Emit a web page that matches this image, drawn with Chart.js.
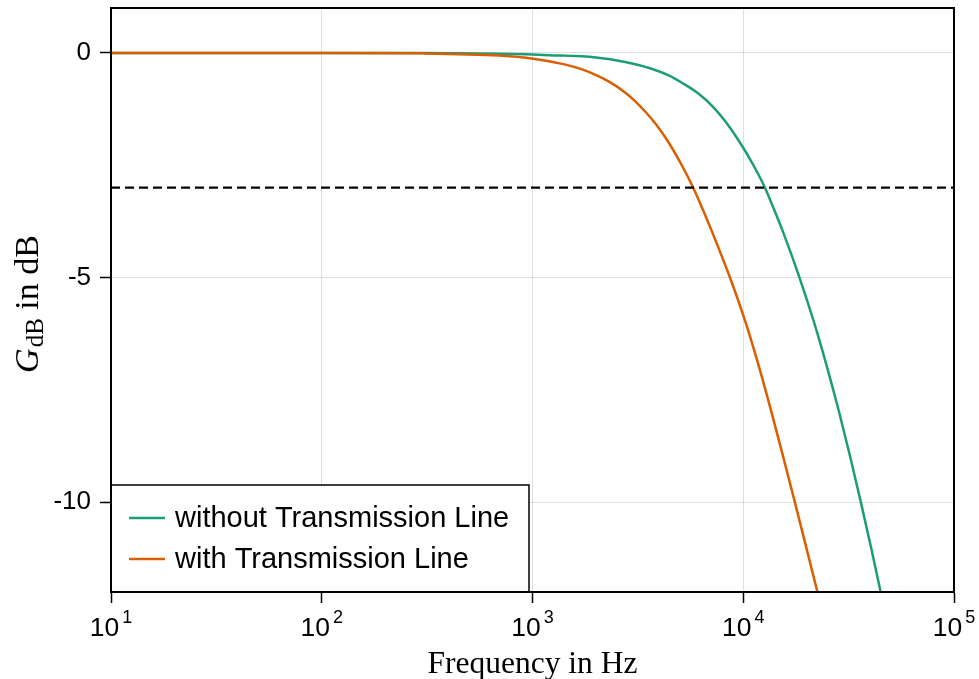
<!DOCTYPE html>
<html>
<head>
<meta charset="utf-8">
<script src="https://cdn.jsdelivr.net/npm/chart.js@4.4.0/dist/chart.umd.min.js"></script>
<style>
  html, body { margin: 0; padding: 0; background: #fff; }
</style>
</head>
<body>
<canvas id="chart" width="979" height="679"></canvas>
<script>
// series (frequency in Hz, gain in dB)
const freqWithout = [10, 100, 300, 700, 1200, 2000, 2750, 3610, 4430, 5180, 6100, 7190, 8300, 9660, 11180, 12680, 14050, 15490, 18490, 21680, 25000, 28510, 32210, 36140, 40360, 44870, 49780];
const gainWithout = [0, 0, 0, -0.02, -0.05, -0.1, -0.2, -0.34, -0.5, -0.68, -0.9, -1.2, -1.55, -2.0, -2.5, -3.0, -3.5, -4.0, -5.0, -6.0, -7.0, -8.0, -9.0, -10.0, -11.0, -12.0, -13.0];

const freqWith = [10, 100, 300, 700, 1010, 1400, 1680, 2040, 2330, 2750, 3030, 3450, 3870, 4450, 5110, 5790, 6450, 7140, 8650, 10260, 11900, 13620, 15490, 17570, 19890, 22490, 25410];
const gainWith = [0, 0, -0.01, -0.06, -0.13, -0.25, -0.35, -0.51, -0.65, -0.88, -1.05, -1.32, -1.6, -2.01, -2.5, -3.0, -3.5, -4.0, -5.0, -6.0, -7.0, -8.0, -9.0, -10.0, -11.0, -12.0, -13.0];

const seriesNames = ["without Transmission Line", "with Transmission Line"];
const seriesColors = ["#1b9e77", "#d95f02"];

const cutoffLevel = -3;
const xTicks = [10, 100, 1000, 10000, 100000];
const xTickBase = "10";
const xTickExponents = ["1", "2", "3", "4", "5"];
const yTicks = [-10, -5, 0];
const yTickLabels = ["-10", "-5", "0"];

function pairs(xs, ys) {
  return xs.map(function (x, i) { return { x: x, y: ys[i] }; });
}

const sans = "'Liberation Sans', Arial, sans-serif";
const serif = "'Liberation Serif', 'Times New Roman', serif";

// legend, x tick labels, axis titles and the frame round the plot
const decorations = {
  id: "decorations",
  afterDraw: function (chart) {
    const ctx = chart.ctx;
    const a = chart.chartArea;
    const xs = chart.scales.x;
    ctx.save();

    // legend box, bottom left inside the plot
    const lw = 418, lh = 107;
    const lx = a.left, ly = a.bottom - lh;
    ctx.fillStyle = "#fff";
    ctx.fillRect(lx, ly, lw, lh);
    ctx.strokeStyle = "#000";
    ctx.lineWidth = 1.5;
    ctx.strokeRect(lx, ly, lw, lh);
    ctx.font = "29px " + sans;
    ctx.textBaseline = "middle";
    ctx.textAlign = "left";
    for (let i = 0; i < 2; i++) {
      const ry = ly + 33 + i * 41;
      ctx.strokeStyle = chart.data.datasets[i].borderColor;
      ctx.lineWidth = 2.5;
      ctx.beginPath();
      ctx.moveTo(lx + 18, ry);
      ctx.lineTo(lx + 54, ry);
      ctx.stroke();
      ctx.fillStyle = "#000";
      ctx.fillText(chart.data.datasets[i].label, lx + 64, ry + 1);
    }

    // frame
    ctx.strokeStyle = "#000";
    ctx.lineWidth = 2;
    ctx.strokeRect(a.left, a.top, a.right - a.left, a.bottom - a.top);

    // x tick labels as 10 with a raised exponent
    ctx.fillStyle = "#000";
    ctx.textBaseline = "alphabetic";
    ctx.textAlign = "left";
    xTicks.forEach(function (v, i) {
      const px = xs.getPixelForValue(v);
      ctx.font = "26.5px " + sans;
      const wb = ctx.measureText(xTickBase).width;
      ctx.font = "18px " + sans;
      const we = ctx.measureText(xTickExponents[i]).width;
      const x0 = px - (wb + 3 + we) / 2;
      ctx.font = "26.5px " + sans;
      ctx.fillText(xTickBase, x0, 636);
      ctx.font = "18px " + sans;
      ctx.fillText(xTickExponents[i], x0 + wb + 3, 623);
    });

    // x title
    ctx.font = "31.5px " + serif;
    ctx.textAlign = "center";
    ctx.fillText("Frequency in Hz", (a.left + a.right) / 2, 673);

    // y title: G_dB in dB, rotated
    ctx.translate(38, 304);
    ctx.rotate(-Math.PI / 2);
    const big = "34px " + serif;
    const bigIt = "italic 34px " + serif;
    const small = "25px " + serif;
    ctx.font = bigIt; const wG = ctx.measureText("G").width;
    ctx.font = small; const wSub = ctx.measureText("dB").width;
    ctx.font = big; const wRest = ctx.measureText(" in dB").width;
    let x0 = -(wG + wSub + 1 + wRest) / 2;
    ctx.textAlign = "left";
    ctx.font = bigIt; ctx.fillText("G", x0, 0);
    x0 += wG + 1;
    ctx.font = small; ctx.fillText("dB", x0, 5);
    x0 += wSub;
    ctx.font = big; ctx.fillText(" in dB", x0, 0);

    ctx.restore();
  }
};

new Chart(document.getElementById("chart"), {
  type: "line",
  data: {
    datasets: [
      {
        label: seriesNames[0],
        data: pairs(freqWithout, gainWithout),
        borderColor: seriesColors[0],
        borderWidth: 2.5,
        pointRadius: 0,
        cubicInterpolationMode: "monotone",
        clip: 0,
        order: 2
      },
      {
        label: seriesNames[1],
        data: pairs(freqWith, gainWith),
        borderColor: seriesColors[1],
        borderWidth: 2.5,
        pointRadius: 0,
        cubicInterpolationMode: "monotone",
        clip: 0,
        order: 1
      },
      {
        label: "-3 dB",
        data: [{ x: xTicks[0], y: cutoffLevel }, { x: xTicks[xTicks.length - 1], y: cutoffLevel }],
        borderColor: "#000",
        borderWidth: 2.2,
        borderDash: [9, 5],
        pointRadius: 0,
        clip: 0,
        order: 0
      }
    ]
  },
  options: {
    responsive: false,
    animation: false,
    events: [],
    layout: { padding: { top: 8, right: 25, left: 0, bottom: 0 } },
    plugins: {
      legend: { display: false },
      tooltip: { enabled: false }
    },
    scales: {
      x: {
        type: "logarithmic",
        min: xTicks[0],
        max: xTicks[xTicks.length - 1],
        afterBuildTicks: function (scale) {
          scale.ticks = xTicks.map(function (v) { return { value: v }; });
        },
        afterFit: function (scale) {
          scale.height = 87;
          scale.paddingLeft = 0;
          scale.paddingRight = 0;
        },
        ticks: { display: false },
        grid: {
          color: "rgba(0,0,0,0.12)",
          lineWidth: 1,
          tickColor: "#000",
          tickLength: 11,
          tickWidth: 1.5
        },
        border: { color: "#000", width: 2 }
      },
      y: {
        type: "linear",
        min: -12,
        max: 1,
        afterBuildTicks: function (scale) {
          scale.ticks = yTicks.map(function (v) { return { value: v }; });
        },
        afterFit: function (scale) {
          scale.width = 111;
          scale.paddingTop = 0;
          scale.paddingBottom = 0;
        },
        ticks: {
          color: "#000",
          font: { family: sans, size: 26 },
          padding: 9,
          callback: function (value) {
            return yTickLabels[yTicks.indexOf(value)];
          }
        },
        grid: {
          color: "rgba(0,0,0,0.12)",
          lineWidth: 1,
          tickColor: "#000",
          tickLength: 11,
          tickWidth: 1.5
        },
        border: { color: "#000", width: 2 }
      }
    }
  },
  plugins: [decorations]
});
</script>
</body>
</html>
